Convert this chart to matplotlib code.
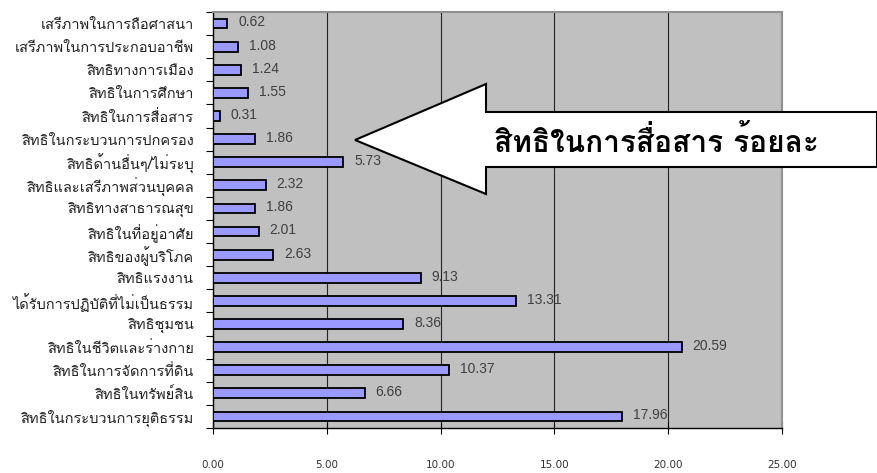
import matplotlib
matplotlib.use('Agg')
import matplotlib.pyplot as plt
from matplotlib.patches import Polygon

# Data, top to bottom as shown in the chart
categories = ['เสรีภาพในการถือศาสนา', 'เสรีภาพในการประกอบอาชีพ', 'สิทธิทางการเมือง',
              'สิทธิในการศึกษา', 'สิทธิในการสื่อสาร', 'สิทธิในกระบวนการปกครอง',
              'สิทธิด้านอื่นๆ/ไม่ระบุ', 'สิทธิและเสรีภาพส่วนบุคคล', 'สิทธิทางสาธารณสุข',
              'สิทธิในที่อยู่อาศัย', 'สิทธิของผู้บริโภค', 'สิทธิแรงงาน',
              'ได้รับการปฏิบัติที่ไม่เป็นธรรม', 'สิทธิชุมชน', 'สิทธิในชีวิตและร่างกาย',
              'สิทธิในการจัดการที่ดิน', 'สิทธิในทรัพย์สิน', 'สิทธิในกระบวนการยุติธรรม']
values = [0.62, 1.08, 1.24, 1.55, 0.31, 1.86, 5.73, 2.32, 1.86,
          2.01, 2.63, 9.13, 13.31, 8.36, 20.59, 10.37, 6.66, 17.96]
xticks = [0, 5, 10, 15, 20, 25]
callout = 'สิทธิในการสื่อสาร ร้อยละ'

plt.rcParams['font.family'] = ['Loma', 'DejaVu Sans']

W, H = 878, 473
fig = plt.figure(figsize=(W / 100, H / 100), dpi=100)
ax = fig.add_axes([213 / W, 1 - 428 / H, (782 - 213) / W, (428 - 12) / H])
ax.set_facecolor('#c0c0c0')

n = len(categories)
pos = list(range(n))
ax.barh(pos, values, height=0.42, color='#9999ff', edgecolor='black',
        linewidth=1.3, zorder=3)
# value labels next to each bar
for p, v in zip(pos, values):
    ax.text(v + 0.48, p - 0.05, '%.2f' % v, va='center', ha='left', fontsize=10,
            color='#404040', family='Liberation Sans', zorder=2)

ax.set_xlim(0, 25)
ax.set_ylim(n - 0.5, -0.5)
ax.set_xticks(xticks)
ax.set_xticklabels(['%.2f' % t for t in xticks], fontsize=7.5, color='#333333',
                   family='DejaVu Sans')
ax.tick_params(axis='x', direction='inout', length=8, width=0.8, pad=19)
ax.xaxis.grid(True, color='#222222', linewidth=0.8, zorder=2.5)

ax.set_yticks(pos)
ax.set_yticklabels(categories, fontsize=10.5, color='#222222')
ax.tick_params(axis='y', length=0, pad=14)
ax.set_yticks([p - 0.5 for p in pos] + [n - 0.5], minor=True)
ax.tick_params(axis='y', which='minor', length=5, width=0.8, direction='out')

for side in ['top', 'right']:
    ax.spines[side].set_color('#909090')
    ax.spines[side].set_linewidth(1.5)
ax.spines['left'].set_linewidth(1.0)
ax.spines['bottom'].set_linewidth(1.0)

# big callout arrow
pts = [(355, 140), (486, 84), (486, 112), (877, 112), (877, 167), (486, 167), (486, 194)]
arrow = Polygon([(x / W, 1 - y / H) for x, y in pts], closed=True,
                transform=fig.transFigure, facecolor='white', edgecolor='black',
                linewidth=1.5, zorder=10)
fig.patches.append(arrow)
fig.text(656 / W, 1 - 142 / H, callout, ha='center', va='center', fontsize=21.5,
         fontweight='bold', color='black', zorder=11)

fig.savefig('out.png', dpi=100)
